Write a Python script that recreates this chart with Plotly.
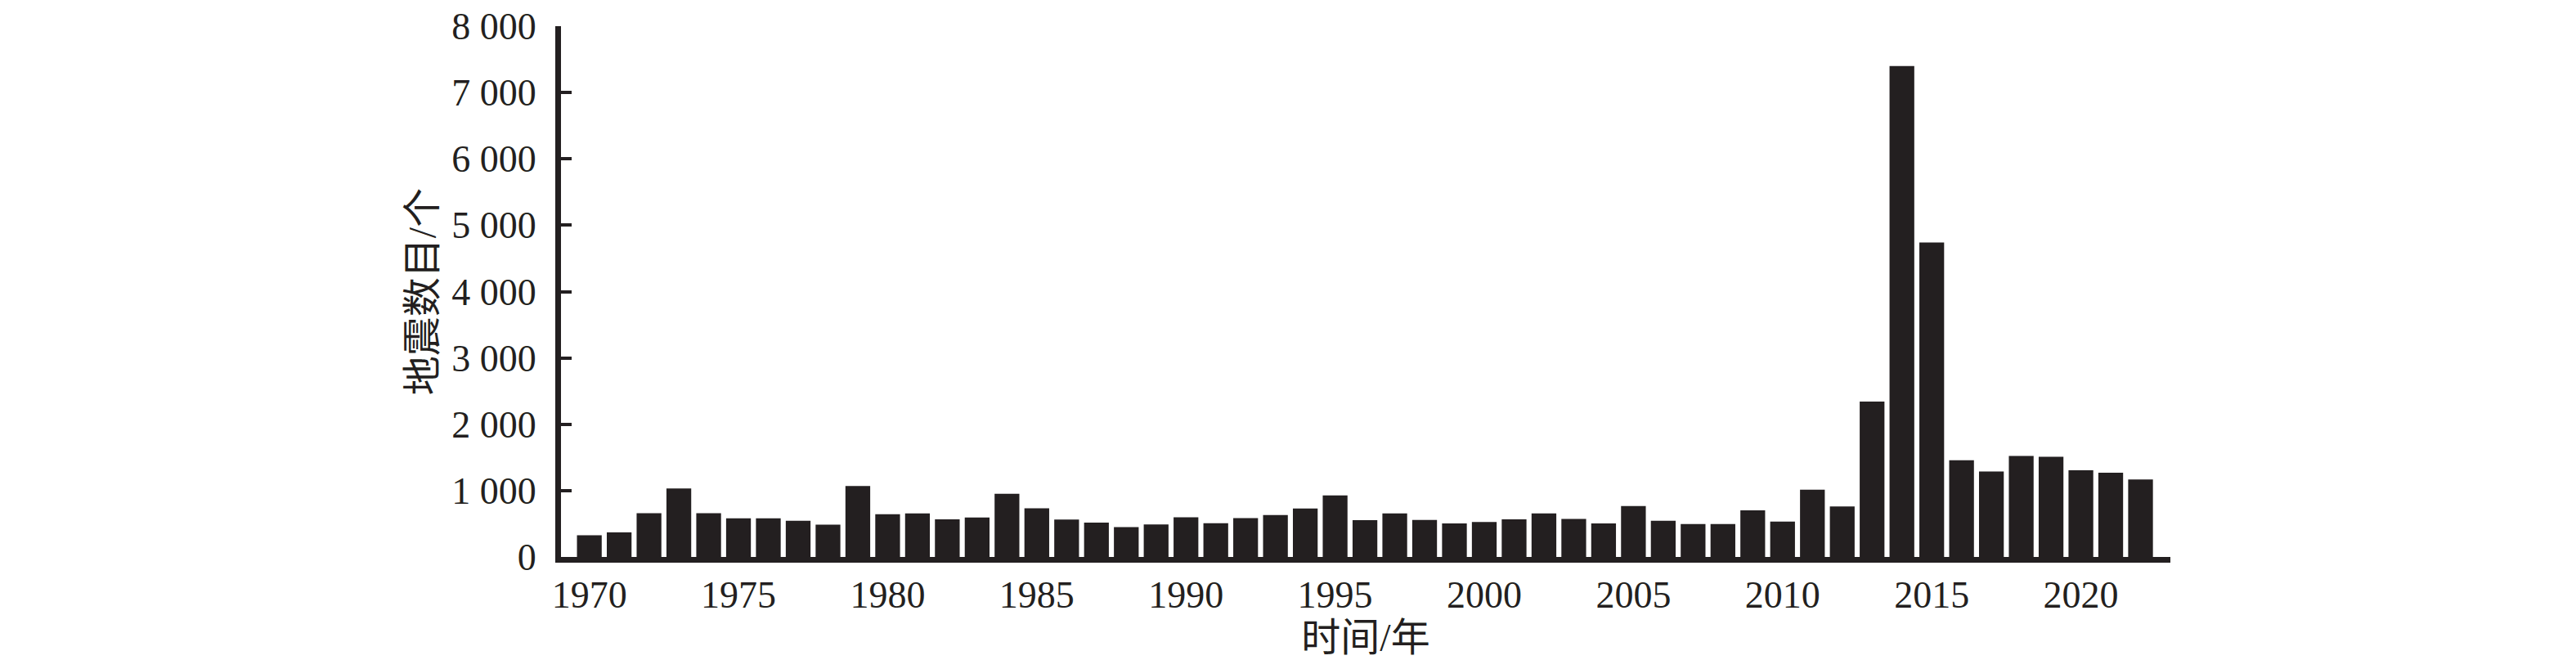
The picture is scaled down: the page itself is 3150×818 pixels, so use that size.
import plotly.graph_objects as go

years = list(range(1970, 2023))
counts = [327, 371, 661, 1032, 661, 581, 581, 544, 488, 1069,
          645, 657, 566, 596, 952, 733, 563, 518, 449, 490,
          599, 510, 587, 632, 729, 927, 555, 656, 559, 506,
          526, 567, 656, 574, 505, 768, 546, 495, 495, 704,
          533, 1015, 761, 2341, 7398, 4740, 1459, 1288, 1523, 1510,
          1307, 1269, 1168]

x_title = "时间/年"
y_title = "地震数目/个"
y_ticks = [0, 1000, 2000, 3000, 4000, 5000, 6000, 7000, 8000]

ink = "#231f20"
font_fam = "Liberation Serif, Noto Sans CJK SC, serif"

fig = go.Figure(go.Bar(x=years, y=counts, marker=dict(color=ink, line=dict(width=0))))

# page body has an 8px margin, so the figure is made 16px smaller and shifted
fig.update_layout(
    width=3134, height=802,
    margin=dict(l=678, r=488, t=24, b=129),
    plot_bgcolor="white", paper_bgcolor="white",
    bargap=0.17,
    separators=". ",
    showlegend=False,
    font=dict(family=font_fam, size=46, color=ink),
)

fig.update_xaxes(
    range=[1969.05, 2023],
    automargin=False,
    tickmode="linear", tick0=1970, dtick=5,
    showgrid=False, zeroline=False,
    showline=True, linecolor=ink, linewidth=7,
    ticks="",
    ticklabelstandoff=0,
    ticklabeloverflow="allow",
    tickfont=dict(family=font_fam, size=46, color=ink),
    title=dict(text=x_title, font=dict(family=font_fam, size=48, color=ink), standoff=13),
)

fig.update_yaxes(
    range=[0, 8000],
    automargin=False,
    tickmode="array", tickvals=y_ticks, tickformat=",d",
    showgrid=False, zeroline=False,
    showline=True, linecolor=ink, linewidth=7,
    ticks="inside", ticklen=13, tickwidth=4, tickcolor=ink,
    ticklabelstandoff=14,
    ticklabeloverflow="allow",
    tickfont=dict(family=font_fam, size=46, color=ink),
    title=dict(text=y_title, font=dict(family=font_fam, size=48, color=ink), standoff=6),
)

fig.write_html("out.html")
